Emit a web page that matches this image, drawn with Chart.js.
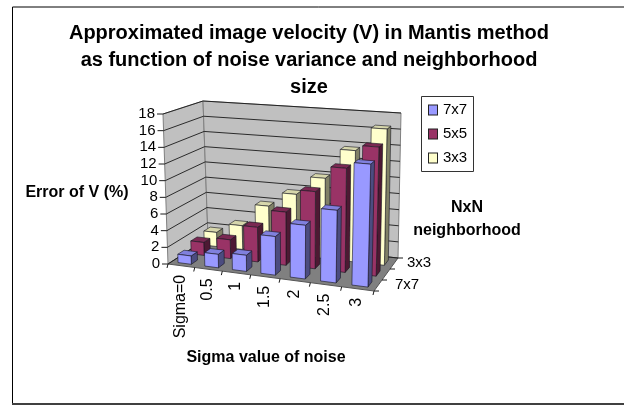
<!DOCTYPE html>
<html>
<head>
<meta charset="utf-8">
<style>
html, body { margin: 0; padding: 0; background: #fff; }
#wrap { width: 624px; height: 405px; position: relative; }
</style>
<script src="https://cdn.jsdelivr.net/npm/chart.js@4/dist/chart.umd.min.js"></script>
</head>
<body>
<div id="wrap"><canvas id="chart"></canvas></div>
<script>
const categories = ['Sigma=0', '0.5', '1', '1.5', '2', '2.5', '3'];
const rowNames = ['7x7', '5x5', '3x3'];
const values7x7 = [1.0, 1.6, 1.9, 4.5, 6.2, 8.3, 13.9];
const values5x5 = [1.6, 2.3, 4.2, 6.4, 9.2, 12.3, 15.1];
const values3x3 = [1.8, 3.0, 5.8, 7.6, 9.9, 13.6, 16.5];
const depthLabels = ['7x7', '3x3'];
const titleLines = ['Approximated image velocity (V) in Mantis method', 'as function of noise variance and neighborhood', 'size'];

const rowColors = [
    { front: '#9999ff', top: '#8080dd', side: '#4c4c80' },
    { front: '#993366', top: '#7a2952', side: '#4d1933' },
    { front: '#ffffcc', top: '#d6d6ab', side: '#808066' }
];

// corners of the 3D box as they land on the page: [x, y]
const box = {
    floor: { fl: [168, 264], fr: [374, 291], bl: [208, 238], br: [398, 258] },
    roof: { fl: [163, 114], fr: [378, 130], bl: [203, 101], br: [401, 113] }
};
const perspectiveK = 1.117; // bars grow a bit towards the right

function mix(a, b, t) {
    return [a[0] + (b[0] - a[0]) * t, a[1] + (b[1] - a[1]) * t];
}

// u along the categories, w into the depth, v up the value axis (all 0..1)
function project(u, w, v) {
    const uu = u / (perspectiveK - (perspectiveK - 1) * u);
    const low = mix(mix(box.floor.fl, box.floor.fr, uu), mix(box.floor.bl, box.floor.br, uu), w);
    const high = mix(mix(box.roof.fl, box.roof.fr, uu), mix(box.roof.bl, box.roof.br, uu), w);
    return mix(low, high, v);
}

function poly(ctx, pts, fill, stroke, lineWidth) {
    ctx.beginPath();
    pts.forEach((p, i) => i ? ctx.lineTo(p[0], p[1]) : ctx.moveTo(p[0], p[1]));
    ctx.closePath();
    if (fill) { ctx.fillStyle = fill; ctx.fill(); }
    if (stroke) { ctx.strokeStyle = stroke; ctx.lineWidth = lineWidth || 1; ctx.stroke(); }
}

function line(ctx, a, b, color, width) {
    ctx.beginPath();
    ctx.moveTo(a[0], a[1]);
    ctx.lineTo(b[0], b[1]);
    ctx.strokeStyle = color;
    ctx.lineWidth = width || 1;
    ctx.stroke();
}

function label(ctx, text, x, y, font, align, rotate) {
    ctx.save();
    ctx.translate(x, y);
    if (rotate) ctx.rotate(rotate);
    ctx.font = font;
    ctx.fillStyle = '#000';
    ctx.textAlign = align || 'center';
    ctx.textBaseline = 'middle';
    ctx.fillText(text, 0, 0);
    ctx.restore();
}

const FONT = '"Liberation Sans", Arial, sans-serif';

const scene3d = {
    id: 'scene3d',
    beforeDraw(chart) {
        const ctx = chart.ctx;
        // outer frame, it runs off the right side of the picture
        ctx.fillStyle = '#fff';
        ctx.fillRect(0, 0, 624, 405);
        ctx.strokeStyle = '#000';
        ctx.lineWidth = 1;
        ctx.beginPath();
        ctx.moveTo(12.5, 403);
        ctx.lineTo(12.5, 7);
        ctx.lineTo(624, 7);
        ctx.stroke();
        line(ctx, [12, 404], [624, 404], '#404040', 2);

        // walls and floor
        poly(ctx, [project(0, 0, 0), project(0, 1, 0), project(0, 1, 1), project(0, 0, 1)], '#c0c0c0', '#808080');
        poly(ctx, [project(0, 1, 0), project(1, 1, 0), project(1, 1, 1), project(0, 1, 1)], '#c0c0c0', '#808080');
        poly(ctx, [project(0, 0, 0), project(1, 0, 0), project(1, 1, 0), project(0, 1, 0)], '#808080', '#555');

        const yScale = chart.scales.y;
        const xScale = chart.scales.x;
        const area = chart.chartArea;
        const toV = px => (area.bottom - px) / (area.bottom - area.top);
        const toU = px => (px - area.left) / (area.right - area.left);

        // gridlines and value ticks
        yScale.ticks.forEach(t => {
            const v = toV(yScale.getPixelForValue(t.value));
            const a = project(0, 0, v), b = project(0, 1, v), c = project(1, 1, v);
            line(ctx, a, b, '#1a1a1a', 0.9);
            line(ctx, b, c, '#1a1a1a', 0.9);
            line(ctx, [a[0] - 6, a[1]], a, '#1a1a1a', 1);
            label(ctx, t.label, a[0] - 8, a[1], '15px ' + FONT, 'right');
        });

        // category ticks on the front edge
        for (let i = 0; i <= categories.length; i++) {
            const u = toU(xScale.getPixelForValue(i - 0.5));
            const p = project(u, 0, 0);
            line(ctx, p, [p[0] - 1, p[1] + 4], '#1a1a1a', 1);
        }
        categories.forEach((c, i) => {
            const p = project(toU(xScale.getPixelForValue(i)), 0, 0);
            label(ctx, c, p[0] - 1, p[1] + 9, '16px ' + FONT, 'right', -Math.PI / 2);
        });

        // depth ticks on the right edge
        for (let i = 0; i <= rowNames.length; i++) {
            const p = project(1, i / rowNames.length, 0);
            line(ctx, p, [p[0] + 5, p[1]], '#1a1a1a', 1);
        }
        label(ctx, depthLabels[0], 395, 285, '15px ' + FONT, 'left');
        label(ctx, depthLabels[1], 407, 263, '15px ' + FONT, 'left');

        // texts
        titleLines.forEach((t, i) => label(ctx, t, 309, 33 + i * 27, 'bold 20px ' + FONT));
        label(ctx, 'Error of V (%)', 77, 193, 'bold 16px ' + FONT);
        label(ctx, 'Sigma value of noise', 266, 358, 'bold 16px ' + FONT);
        label(ctx, 'NxN', 467, 208, 'bold 16px ' + FONT);
        label(ctx, 'neighborhood', 467, 231, 'bold 16px ' + FONT);

        // legend
        poly(ctx, [[421.5, 96.5], [473.5, 96.5], [473.5, 171.5], [421.5, 171.5]], '#fff', '#333');
        rowNames.forEach((n, i) => {
            const y = 110 + i * 24;
            ctx.fillStyle = rowColors[i].front;
            ctx.fillRect(428.5, y - 5, 9, 10);
            ctx.strokeStyle = '#222';
            ctx.lineWidth = 1;
            ctx.strokeRect(428.5, y - 5, 9, 10);
            label(ctx, n, 443, y, '15px ' + FONT, 'left');
        });
    },
    beforeDatasetsDraw(chart) {
        const ctx = chart.ctx;
        const area = chart.chartArea;
        const toV = px => (area.bottom - px) / (area.bottom - area.top);
        const toU = px => (px - area.left) / (area.right - area.left);
        const rowDepth = 1 / rowNames.length;
        const barDepth = rowDepth * 0.48;
        // back row first so the nearer bars cover it
        for (let r = chart.data.datasets.length - 1; r >= 0; r--) {
            const colors = rowColors[r];
            const w0 = (r + 0.5) * rowDepth - barDepth / 2;
            const w1 = w0 + barDepth;
            chart.getDatasetMeta(r).data.forEach(bar => {
                const u0 = toU(bar.x - bar.width / 2);
                const u1 = toU(bar.x + bar.width / 2);
                const v = toV(bar.y);
                const edge = 'rgba(20,20,30,0.85)';
                poly(ctx, [project(u1, w0, 0), project(u1, w1, 0), project(u1, w1, v), project(u1, w0, v)], colors.side, edge, 0.7);
                poly(ctx, [project(u0, w0, v), project(u1, w0, v), project(u1, w1, v), project(u0, w1, v)], colors.top, edge, 0.7);
                poly(ctx, [project(u0, w0, 0), project(u1, w0, 0), project(u1, w0, v), project(u0, w0, v)], colors.front, edge, 0.7);
            });
        }
        return false; // bars are drawn above, skip the flat ones
    }
};

new Chart(document.getElementById('chart'), {
    type: 'bar',
    data: {
        labels: categories,
        datasets: [
            { label: rowNames[0], data: values7x7, backgroundColor: rowColors[0].front },
            { label: rowNames[1], data: values5x5, backgroundColor: rowColors[1].front },
            { label: rowNames[2], data: values3x3, backgroundColor: rowColors[2].front }
        ]
    },
    options: {
        responsive: true,
        maintainAspectRatio: false,
        animation: false,
        layout: { padding: { left: 168, right: 250, top: 114, bottom: 141 } },
        datasets: { bar: { grouped: false, categoryPercentage: 1, barPercentage: 0.5 } },
        scales: {
            x: { display: false },
            y: { display: false, min: 0, max: 18, ticks: { stepSize: 2, autoSkip: false } }
        },
        plugins: { legend: { display: false }, title: { display: false }, tooltip: { enabled: false } }
    },
    plugins: [scene3d]
});
</script>
</body>
</html>
